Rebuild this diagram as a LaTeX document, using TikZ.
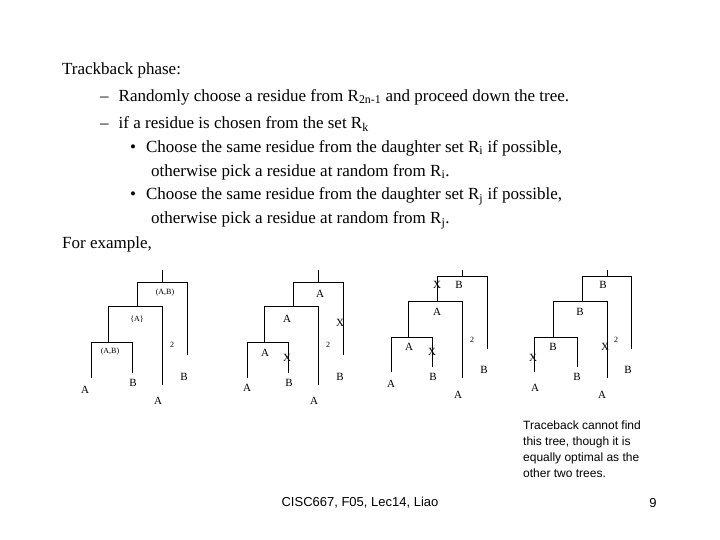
\documentclass[tikz,border=0pt]{standalone}
\usepackage{fontspec}
\setmainfont{Liberation Serif}
\newfontfamily\arial{Liberation Sans}
\begin{document}
\begin{tikzpicture}[x=1pt,y=-1pt,
  txt/.style={anchor=west,inner sep=0pt,font=\fontsize{17}{20}\selectfont},
  lab/.style={inner sep=0pt,font=\fontsize{11}{12}\selectfont},
  sm/.style={inner sep=0pt,font=\fontsize{8}{9}\selectfont},
  br/.style={line width=0.9pt}]
\useasboundingbox (0,0) rectangle (720,540);
\node[txt] (t1) at (62,70) {Trackback phase:};
\node[txt] (t2) at (100,97) {–\hspace{10pt}Randomly choose a residue from  R\textsubscript{2n-1} and proceed down the tree.};
\node[txt] (t3) at (100,124) {–\hspace{10pt}if a residue is chosen from the set R\textsubscript{k}};
\node[txt] (t4) at (130,148) {•\hspace{10pt}Choose the same residue from the daughter set R\textsubscript{i} if possible,};
\node[txt] (t5) at (151,172) {otherwise pick a residue at random from R\textsubscript{i}.};
\node[txt] (t6) at (130,196) {•\hspace{10pt}Choose the same residue from the daughter set R\textsubscript{j} if possible,};
\node[txt] (t7) at (151,220) {otherwise pick a residue at random from R\textsubscript{j}.};
\node[txt] (t8) at (62,244) {For example,};
% tree 1
\draw[br] (162,270)--(162,282) (137,282)--(187,282) (187,282)--(187,355)
 (137,282)--(137,306) (108,306)--(162,306) (162,306)--(162,385)
 (108,306)--(108,342) (91,342)--(132,342) (91,342)--(91,378) (132,342)--(132,373);
\node[sm] (a1) at (165,293) {(A,B)};
\node[sm] (a2) at (137,319) {\{A\}};
\node[sm] (a3) at (110,352) {(A,B)};
\node[sm] (a4) at (172,345) {2};
\node[lab] (a5) at (85,390) {A};
\node[lab] (a6) at (133,383) {B};
\node[lab] (a7) at (158,401) {A};
\node[lab] (a8) at (184,377) {B};
% tree 2
\draw[br] (318,270)--(318,282) (293,282)--(343,282) (343,282)--(343,355)
 (293,282)--(293,306) (264,306)--(318,306) (318,306)--(318,385)
 (264,306)--(264,342) (247,342)--(288,342) (247,342)--(247,378) (288,342)--(288,373);
\node[lab] (b1) at (320,294) {A};
\node[lab] (b2) at (287,319) {A};
\node[lab] (b3) at (265,353) {A};
\node[lab] (b4) at (340,323) {X};
\node[lab] (b5) at (287,358) {X};
\node[sm] (b6) at (328,345) {2};
\node[lab] (b7) at (247,388) {A};
\node[lab] (b8) at (289,383) {B};
\node[lab] (b9) at (314,401) {A};
\node[lab] (b10) at (340,377) {B};
% tree 3
\draw[br] (462,270)--(462,276) (437,276)--(487,276) (487,276)--(487,349)
 (437,276)--(437,301) (408,301)--(462,301) (462,301)--(462,378)
 (408,301)--(408,337) (391,337)--(432,337) (391,337)--(391,372) (432,337)--(432,367);
\node[lab] (c1) at (437,285) {X};
\node[lab] (c2) at (459,285) {B};
\node[lab] (c3) at (437,312) {A};
\node[lab] (c4) at (409,347) {A};
\node[lab] (c5) at (432,352) {X};
\node[sm] (c6) at (472,340) {2};
\node[lab] (c7) at (391,384) {A};
\node[lab] (c8) at (433,377) {B};
\node[lab] (c9) at (458,395) {A};
\node[lab] (c10) at (484,370) {B};
% tree 4
\draw[br] (607,270)--(607,276) (582,276)--(631,276) (631,276)--(631,349)
 (582,276)--(582,301) (553,301)--(607,301) (607,301)--(607,378)
 (553,301)--(553,337) (534,337)--(577,337) (534,337)--(534,372) (577,337)--(577,367);
\node[lab] (d1) at (603,285) {B};
\node[lab] (d2) at (580,312) {B};
\node[lab] (d3) at (553,347) {B};
\node[lab] (d4) at (533,358) {X};
\node[lab] (d5) at (605,347) {X};
\node[sm] (d6) at (616,340) {2};
\node[lab] (d7) at (535,388) {A};
\node[lab] (d8) at (577,377) {B};
\node[lab] (d9) at (602,395) {A};
\node[lab] (d10) at (628,370) {B};
% notes
\node[anchor=north west,inner sep=0pt,align=left,font=\arial\fontsize{12}{16}\selectfont] (n1) at (523,421)
 {Traceback cannot find\\this tree, though it is\\equally optimal as the\\other two trees.};
\node[inner sep=0pt,font=\arial\fontsize{13}{15}\selectfont] (f1) at (360,503) {CISC667, F05, Lec14, Liao};
\node[inner sep=0pt,font=\arial\fontsize{13}{15}\selectfont] (f2) at (653,503) {9};
\end{tikzpicture}
\end{document}
